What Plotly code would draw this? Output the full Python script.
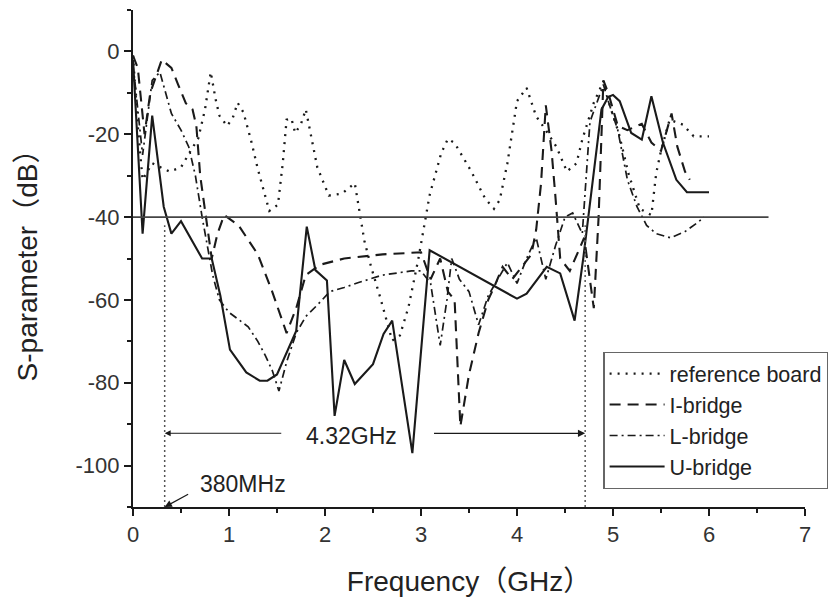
import plotly.graph_objects as go

# ---------------- data ----------------
ref_x = [0, 0.05, 0.1, 0.2, 0.38, 0.5, 0.6, 0.68, 0.75, 0.81, 0.86, 0.9, 0.98, 1.04, 1.09, 1.15, 1.23, 1.3,
         1.42, 1.51, 1.56, 1.6, 1.65, 1.69, 1.75, 1.8, 1.86, 1.92, 2.04, 2.18, 2.31, 2.41, 2.48, 2.57, 2.7,
         2.78, 2.87, 2.97, 3.09, 3.21, 3.28, 3.35, 3.52, 3.67, 3.76, 3.82, 3.9, 4.0, 4.1, 4.2, 4.3, 4.41,
         4.52, 4.62, 4.68, 4.8, 4.9, 4.97, 5.06, 5.16, 5.28, 5.4, 5.45, 5.5, 5.59, 5.73, 5.84, 6.0]
ref_y = [-1, -18, -31, -27, -29, -28, -24, -21, -14, -5, -11.5, -15.5, -18, -16, -12.4, -14.7, -21.5, -28.4,
         -38.5, -37, -27, -16.5, -16.2, -19.7, -17.5, -14, -21, -28, -34.8, -34.3, -31.8, -45.7, -52, -59, -69.8,
         -68.6, -61.7, -50.4, -34.7, -24.6, -21.1, -22.1, -28.8, -35.6, -38, -35.9, -27, -12, -8.8, -15.7, -19, -23,
         -29, -27, -21.3, -12.4, -7.2, -13.3, -19.7, -29.4, -38, -39.5, -29.4, -24, -16.5, -17.7, -20.5, -20.5]

i_x = [0, 0.05, 0.12, 0.18, 0.3, 0.4, 0.47, 0.55, 0.62, 0.66, 0.7, 0.75, 0.82, 0.88, 0.95, 1.1, 1.3, 1.45,
       1.6, 1.7, 1.8, 1.95, 2.2, 2.6, 2.85, 3.0, 3.1, 3.2, 3.28, 3.35, 3.41, 3.5, 3.6, 3.7, 3.76, 3.85, 3.95,
       4.05, 4.15, 4.2, 4.25, 4.3, 4.36, 4.4, 4.45, 4.55, 4.7, 4.8, 4.85, 4.9, 4.95, 5.05, 5.15, 5.3, 5.4,
       5.5, 5.61, 5.67, 5.75, 5.8]
i_y = [-1, -4, -20, -10, -2, -4, -8, -12.5, -14, -18, -30, -38, -50, -44, -39.5, -42, -49, -58,
       -68, -62, -54, -51.5, -50, -49, -48.8, -48.5, -55, -50, -58, -60, -90.5, -78, -68, -60, -57, -52, -55,
       -52, -49, -43, -32, -13, -24, -35, -50, -53, -45, -62, -40, -7, -10, -18, -19, -17.5, -22,
       -24, -15, -23, -29, -31]

l_x = [0, 0.1, 0.2, 0.28, 0.4, 0.5, 0.58, 0.65, 0.72, 0.78, 0.83, 0.9, 1.0, 1.2, 1.3, 1.38, 1.45, 1.52,
       1.6, 1.7, 1.8, 1.93, 2.05, 2.2, 2.35, 2.6, 2.9, 3.0, 3.1, 3.2, 3.27, 3.32, 3.4, 3.5, 3.6, 3.7, 3.8,
       3.9, 4.0, 4.1, 4.2, 4.3, 4.4, 4.5, 4.58, 4.68, 4.76, 4.82, 4.9, 4.95, 5.05, 5.15, 5.25, 5.35, 5.45,
       5.6, 5.75, 5.87, 5.95]
l_y = [-3, -25, -7, -5, -15, -19, -23, -30, -40, -48, -54, -60, -63, -66.5, -70, -73.5, -77, -82,
       -75, -68, -64, -61, -58, -57, -55.8, -54, -53, -53, -56, -71, -60, -50, -55, -58, -66, -59, -55,
       -51, -56, -50, -45, -55, -47, -40, -39, -44, -17, -13, -8, -12, -19, -31, -37.5, -42, -44,
       -45, -43.5, -41.5, -40]

u_x = [0, 0.1, 0.2, 0.32, 0.4, 0.5, 0.72, 0.82, 0.91, 1.01, 1.18, 1.32, 1.4, 1.5, 1.7, 1.77, 1.81, 1.9,
       2.02, 2.1, 2.2, 2.31, 2.5, 2.61, 2.7, 2.91, 3.09, 4.0, 4.1, 4.31, 4.45, 4.6, 4.69, 4.88, 4.95, 5.0,
       5.07, 5.19, 5.3, 5.4, 5.52, 5.66, 5.77, 5.97, 6.0]
u_y = [-2, -44, -15.5, -37.5, -44, -41, -50, -50, -59, -72, -77.5, -79.5, -79.5, -78, -67.5, -50.5, -42.3, -52.8,
       -55.3, -88, -74.5, -80.3, -75.5, -68.2, -65, -97, -48, -59.7, -58.5, -52, -53.6, -65, -50, -14, -11, -10.5,
       -12, -19.7, -21.3, -10.8, -22, -31, -34, -34, -34]

threshold_db = -40
threshold_x_end = 6.62
band_edges = [0.33, 4.71]          # dotted markers (380 MHz .. 4.71 GHz)
band_marker_top = -42
band_label = "4.32GHz"
low_label = "380MHz"

x_ticks = [0, 1, 2, 3, 4, 5, 6, 7]
y_ticks = [0, -20, -40, -60, -80, -100]

FONT = "Arial, Liberation Sans, Noto Sans CJK SC, sans-serif"
INK = "#1a1a1a"

fig = go.Figure()

series = [
    ("reference board", ref_x, ref_y, "2px,6px", 2.3),
    ("I-bridge", i_x, i_y, "11px,7px", 2.1),
    ("L-bridge", l_x, l_y, "8px,4px,2px,4px", 1.7),
    ("U-bridge", u_x, u_y, "solid", 2.1),
]
for name, xs, ys, dash, w in series:
    fig.add_trace(go.Scatter(x=xs, y=ys, mode="lines", name=name,
                             line=dict(color=INK, width=w, dash=dash)))

# -40 dB reference line
fig.add_trace(go.Scatter(x=[0, threshold_x_end], y=[threshold_db, threshold_db], mode="lines",
                         line=dict(color="#444444", width=1.6), showlegend=False, hoverinfo="skip"))
# vertical dotted band markers
for bx in band_edges:
    fig.add_trace(go.Scatter(x=[bx, bx], y=[-110, band_marker_top], mode="lines",
                             line=dict(color="#555555", width=1.5, dash="2px,3px"),
                             showlegend=False, hoverinfo="skip"))

arrow_y = -92.2
mid = 2.28
annotations = [
    dict(x=band_edges[0], y=arrow_y, ax=1.56, ay=arrow_y, xref="x", yref="y", axref="x", ayref="y",
         showarrow=True, arrowhead=2, arrowsize=1.2, arrowwidth=1, arrowcolor=INK, text=""),
    dict(x=band_edges[1], y=arrow_y, ax=3.12, ay=arrow_y, xref="x", yref="y", axref="x", ayref="y",
         showarrow=True, arrowhead=2, arrowsize=1.2, arrowwidth=1.2, arrowcolor=INK, text=""),
    dict(x=mid, y=-92.8, text=band_label, showarrow=False, xref="x", yref="y",
         font=dict(family=FONT, size=23, color="#222")),
    dict(x=band_edges[0], y=-110, ax=0.59, ay=-106.7, xref="x", yref="y", axref="x", ayref="y",
         showarrow=True, arrowhead=2, arrowsize=1.2, arrowwidth=1.2, arrowcolor=INK, text=""),
    dict(x=1.15, y=-104.5, text=low_label, showarrow=False, xref="x", yref="y",
         font=dict(family=FONT, size=23, color="#222")),
]

fig.update_layout(
    width=839, height=598,
    margin=dict(l=133, r=34, t=10, b=91),
    paper_bgcolor="white", plot_bgcolor="white",
    font=dict(family=FONT, color="#222"),
    annotations=annotations,
    legend=dict(x=0.70, y=0.312, xanchor="left", yanchor="top",
                bgcolor="white", bordercolor="#666", borderwidth=1.2,
                font=dict(family=FONT, size=21.5, color="#222"),
                itemwidth=55, tracegroupgap=0),
)

fig.update_xaxes(range=[0, 7], tickvals=x_ticks, ticktext=[str(v) for v in x_ticks],
                 showline=True, linecolor=INK, linewidth=2, ticks="outside", ticklen=7,
                 tickwidth=2, tickcolor=INK, showgrid=False, zeroline=False, automargin=False,
                 tickfont=dict(family=FONT, size=22, color="#333"),
                 minor=dict(ticks="outside", dtick=0.5, tick0=0, ticklen=4, tickwidth=2, tickcolor=INK),
                 title=dict(text="Frequency（GHz）", font=dict(family=FONT, size=28, color="#222"),
                            standoff=25))
fig.update_yaxes(range=[-110, 10], tickvals=y_ticks, ticktext=[str(v) for v in y_ticks],
                 showline=True, linecolor=INK, linewidth=2, ticks="outside", ticklen=7,
                 tickwidth=2, tickcolor=INK, showgrid=False, zeroline=False, automargin=False,
                 tickfont=dict(family=FONT, size=22, color="#333"),
                 minor=dict(ticks="outside", dtick=10, tick0=0, ticklen=4, tickwidth=2, tickcolor=INK),
                 title=dict(text="S-parameter（dB）", font=dict(family=FONT, size=28, color="#222"),
                            standoff=30))

fig.write_html("out.html")
